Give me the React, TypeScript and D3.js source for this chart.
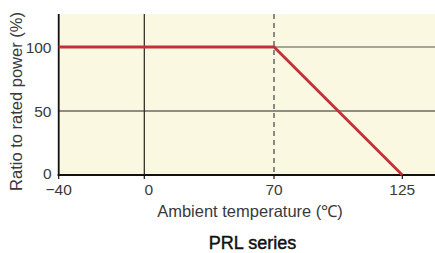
import React from "react";
import * as d3 from "d3";

const temps = [-40, 0, 70, 125];
const tempLabels = ["\u221240", "0", "70", "125"];
const ratioTicks = [0, 50, 100];
const curveTemp = [-40, 70, 125];
const curveRatio = [100, 100, 0];

const W = 435;
const H = 253;
const left = 58.7;
const top = 14;
const bottom = 175;
const right = 435;

export default function App() {
  // schematic (non-uniform) temperature axis
  const x = d3.scaleLinear().domain(temps).range([left, 144.3, 274, 402.3]);
  const y = d3.scaleLinear().domain([0, 100]).range([bottom, 47]);
  const line = d3
    .line<number>()
    .x((_, i) => x(curveTemp[i]))
    .y((d) => y(d));
  const font = "'Liberation Sans', Arial, Helvetica, sans-serif";
  return (
    <svg
      width={W}
      height={H}
      style={{ position: "absolute", left: 0, top: 0, background: "#fff" }}
      fontFamily={font}
    >
      <rect x={left} y={top} width={right - left} height={bottom - top} fill="#faf8e0" />
      {ratioTicks
        .filter((t) => t > 0)
        .map((t) => (
          <line key={t} x1={left} x2={right} y1={y(t)} y2={y(t)} stroke={t === 100 ? "#555" : "#222"} strokeWidth={1.2} />
        ))}
      <line x1={x(0)} x2={x(0)} y1={top} y2={bottom} stroke="#222" strokeWidth={1.2} />
      <line x1={x(70)} x2={x(70)} y1={top} y2={bottom} stroke="#666" strokeWidth={1.5} strokeDasharray="5,4" />
      <line x1={left} x2={left} y1={top} y2={bottom + 1} stroke="#111" strokeWidth={1.8} />
      <line x1={left - 1} x2={right} y1={bottom} y2={bottom} stroke="#111" strokeWidth={1.8} />
      {temps.map((t) => (
        <line key={t} x1={x(t)} x2={x(t)} y1={bottom} y2={bottom + 4} stroke="#111" strokeWidth={1.2} />
      ))}
      <path d={line(curveRatio) || ""} fill="none" stroke="#c4303a" strokeWidth={2.8} strokeLinejoin="miter" />
      {ratioTicks.map((t) => (
        <text key={t} x={51.5} y={y(t) - (t === 0 ? 2 : 0)} dy="0.36em" textAnchor="end" fontSize={15.5} fill="#3a3a3a">
          {t}
        </text>
      ))}
      {temps.map((t, i) => (
        <text key={t} x={x(t) + (t === 0 ? 4.5 : 0)} y={195} textAnchor="middle" fontSize={15.5} fill="#3a3a3a">
          {tempLabels[i]}
        </text>
      ))}
      <text x={250} y={216.5} textAnchor="middle" fontSize={16.5} fill="#3a3a3a">
        Ambient temperature (℃)
      </text>
      <text transform={`translate(22,101.5) rotate(-90)`} textAnchor="middle" fontSize={16.5} fill="#3a3a3a">
        Ratio to rated power (%)
      </text>
      <text x={252.5} y={249} textAnchor="middle" fontSize={18} fill="#111" stroke="#111" strokeWidth={0.45}>
        PRL series
      </text>
    </svg>
  );
}
